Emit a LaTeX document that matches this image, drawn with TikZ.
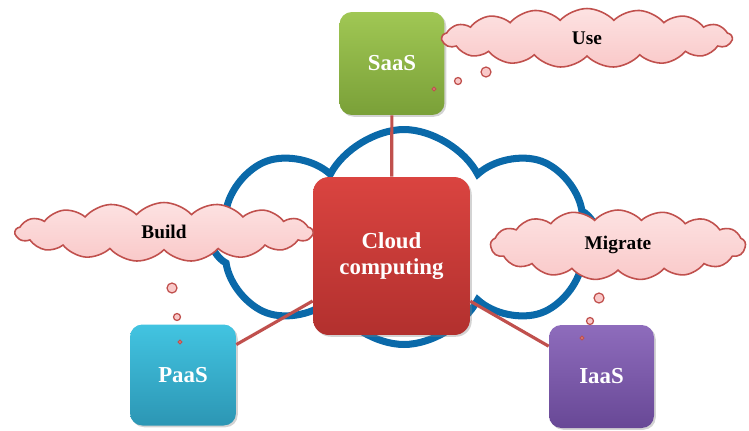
\documentclass[tikz,border=0pt]{standalone}
\usepackage{fontspec}
\setmainfont{Liberation Serif}
\usetikzlibrary{shapes.symbols,shadows}

\definecolor{ringblue}{HTML}{0A69A9}
\definecolor{linkred}{HTML}{C0504D}
\definecolor{pinktop}{HTML}{FDE2E2}
\definecolor{pinkbot}{HTML}{F9C9C9}

\tikzset{
  svcbox/.style={rectangle, rounded corners=7pt, text=white, align=center,
    font=\fontsize{13}{15}\selectfont\bfseries, inner sep=2pt,
    drop shadow={shadow xshift=1pt, shadow yshift=-1pt, opacity=.35}},
  think/.style={cloud, cloud puffs=17, cloud puff arc=95, cloud ignores aspect,
    draw=linkred, line width=0.9pt, top color=pinktop, bottom color=pinkbot,
    font=\fontsize{11}{13}\selectfont\bfseries, inner sep=0pt},
  bubble/.style={draw=linkred, line width=0.7pt, fill=pinkbot},
  link/.style={draw=linkred, line width=1.8pt},
}

\begin{document}
\begin{tikzpicture}[x=0.02cm, y=-0.02cm]
  \useasboundingbox (0,0) rectangle (749,430);

  % blue cloud behind the centre
  \node [cloud, cloud puffs=8, cloud puff arc=125, cloud ignores aspect,
    draw=ringblue, line width=4pt, minimum width=7.75cm, minimum height=4.3cm]
    (ring) at (404,237) {};

  % boxes
  \node [svcbox, top color={rgb,255:red,218;green,68;blue,64},
    bottom color={rgb,255:red,178;green,48;blue,46}, minimum width=3.14cm, minimum height=3.16cm,
    rounded corners=9pt] (cc) at (391.5,256) {Cloud\\computing};
  \node [svcbox, top color={rgb,255:red,160;green,199;blue,84}, bottom color={rgb,255:red,122;green,160;blue,56},
    minimum width=2.1cm, minimum height=2.06cm] (saas) at (392,63.5) {SaaS};
  \node [svcbox, top color={rgb,255:red,66;green,196;blue,225}, bottom color={rgb,255:red,44;green,150;blue,180},
    minimum width=2.12cm, minimum height=2.02cm] (paas) at (183,375) {PaaS};
  \node [svcbox, top color={rgb,255:red,142;green,108;blue,188}, bottom color={rgb,255:red,104;green,72;blue,150},
    minimum width=2.1cm, minimum height=2.06cm] (iaas) at (601.5,376.5) {IaaS};

  % links
  \draw [link] (cc) -- (saas);
  \draw [link] (cc) -- (paas);
  \draw [link] (cc) -- (iaas);

  % thought clouds
  \node [think, minimum width=5.8cm, minimum height=1.18cm] (use) at (587,38) {Use};
  \node [think, minimum width=5.95cm, minimum height=1.18cm] (build) at (164,232) {Build};
  \node [think, minimum width=5.1cm, minimum height=1.4cm] (migrate) at (618,245) {Migrate};

  % bubbles
  \foreach \x/\y/\r in {486/72/5, 458/81/3.5, 434/89/1.8,
                        172/288/5, 177/317/3.5, 180/342/1.8,
                        599/298/5, 590/321/3.5, 582/338/1.8}
    \draw [bubble] (\x,\y) circle [radius=\r];
\end{tikzpicture}
\end{document}
